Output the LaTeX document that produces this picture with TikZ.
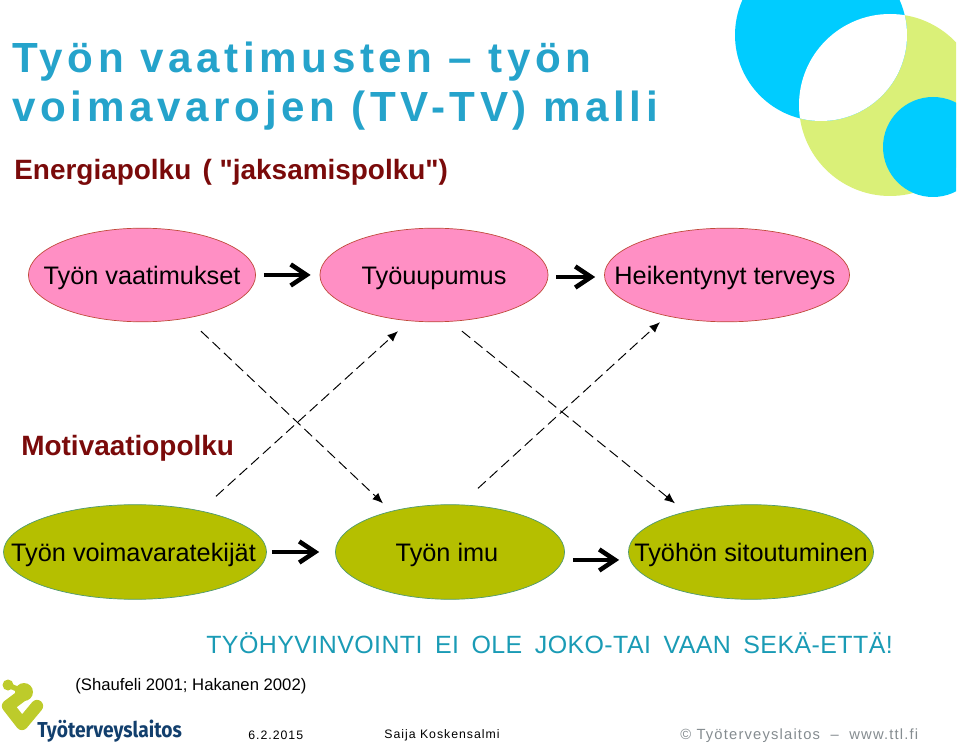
\documentclass[tikz,border=0pt]{standalone}
\usepackage{fontspec}
\setmainfont{Liberation Sans}
\newfontfamily\titlefont[LetterSpace=11]{Liberation Sans Bold}
\newfontfamily\redfont{Liberation Sans Bold}
\newfontfamily\footfont[LetterSpace=8]{Liberation Sans}
\newfontfamily\slogfont[LetterSpace=1.7,WordSpace=1.7]{Liberation Sans}
\newfontfamily\logofont[FakeStretch=0.89]{Fira Sans Bold}
\usetikzlibrary{arrows.meta,shapes.geometric}
\definecolor{titleblue}{HTML}{25A3CB}
\definecolor{sloganblue}{HTML}{1A9BB5}
\definecolor{darkred}{HTML}{7A0A0A}
\definecolor{pinkfill}{HTML}{FF8FC4}
\definecolor{pinkline}{HTML}{C04A3A}
\definecolor{limefill}{HTML}{B5BF00}
\definecolor{limeline}{HTML}{4F9A70}
\definecolor{skyblue}{HTML}{00CCFF}
\definecolor{palelime}{HTML}{DAF078}
\definecolor{logolime}{HTML}{BDCB2B}
\definecolor{logoblue}{HTML}{123F6D}
\definecolor{footgray}{HTML}{858C90}
\def\unitpx{*0.567pt}
\newcommand{\balltext}[1]{\makebox[0pt]{#1}}
\tikzset{
    pinkball/.style={ellipse,draw=pinkline,fill=pinkfill,inner sep=0pt,minimum height=94\unitpx,text height=13.9pt,text depth=2.6pt,font=\fontsize{14.4}{16}\selectfont},
    limeball/.style={ellipse,draw=limeline,fill=limefill,inner sep=0pt,minimum height=95\unitpx,text height=13.9pt,text depth=2.6pt,font=\fontsize{14.4}{16}\selectfont},
    thickarrow/.style={-{Straight Barb[length=9pt,width=12pt,line width=2.6pt]},line width=2.6pt,black,shorten <=8\unitpx,shorten >=9\unitpx},
    dasharrow/.style={-{Latex[length=6pt,width=5pt]},dashed,dash pattern=on 6pt off 3pt,line width=0.55pt},
    heading/.style={anchor=west,inner sep=0pt,text=titleblue,font=\titlefont\fontsize{24}{28}\selectfont},
    redlabel/.style={anchor=west,inner sep=0pt,text=darkred,font=\redfont\fontsize{15.9}{18}\selectfont},
    footlabel/.style={anchor=west,inner sep=0pt,font=\footfont\fontsize{7}{9}\selectfont},
}
\begin{document}
\begin{tikzpicture}[x=0.02cm,y=-0.02cm]
    \useasboundingbox (0,0) rectangle (960,746);
    % corner circles
    \begin{scope}
        \clip (730,1) rectangle (956,200);
        \fill[palelime] (890,105) circle (91);
        \fill[skyblue] (821,35) circle (86);
        \begin{scope}
            \clip (890,105) circle (91);
            \fill[white] (821,35) circle (86);
        \end{scope}
        \fill[skyblue] (933,147) circle (50);
    \end{scope}
    % titles
    \node[heading] (title1) at (12,62) {Työn vaatimusten – työn};
    \node[heading] (title2) at (12,111) {voimavarojen (TV-TV) malli};
    \node[redlabel] (energy) at (14,172.5) {Energiapolku\kern2pt\ ( "jaksamispolku")};
    \node[redlabel] (motiv) at (21,448) {Motivaatiopolku};
    % ellipses
    \node[pinkball,minimum width=228\unitpx] (demands) at (142,275) {\balltext{Työn vaatimukset}};
    \node[pinkball,minimum width=229\unitpx] (burnout) at (434,275) {\balltext{Työuupumus}};
    \node[pinkball,minimum width=246\unitpx] (health) at (727,275) {\balltext{\kern-2.5pt Heikentynyt terveys}};
    \node[limeball,minimum width=264\unitpx] (resources) at (135,552) {\balltext{\kern-1.7pt Työn voimavaratekijät}};
    \node[limeball,minimum width=230\unitpx] (engage) at (450,552) {\balltext{\kern-3.4pt Työn imu}};
    \node[limeball,minimum width=246\unitpx] (commit) at (751,552) {\balltext{Työhön sitoutuminen}};
    % arrows
    \draw[thickarrow] (demands) -- (burnout);
    \draw[thickarrow] ([yshift=-2\unitpx]burnout.east) -- ([yshift=-2\unitpx]health.west);
    \draw[thickarrow,shorten <=5\unitpx,shorten >=16\unitpx] (resources) -- (engage);
    \draw[thickarrow] ([yshift=-8\unitpx]engage.east) -- ([yshift=-8\unitpx]commit.west);
    \draw[dasharrow] ([shift={(59,9)}]demands.south) -- ([shift={(-67,-1)}]engage.north);
    \draw[dasharrow] ([shift={(81,-8)}]resources.north) -- ([shift={(-36,9)}]burnout.south);
    \draw[dasharrow] ([shift={(28,9)}]burnout.south) -- ([shift={(-76,-1)}]commit.north);
    \draw[dasharrow] ([shift={(28,-16)}]engage.north) -- ([shift={(-67,0)}]health.south);
    % bottom texts
    \node[anchor=west,inner sep=0pt,text=sloganblue,font=\slogfont\fontsize{14.2}{16}\selectfont] (slogan) at (206,643.5) {TYÖHYVINVOINTI EI OLE JOKO-TAI VAAN SEKÄ-ETTÄ!};
    \node[anchor=west,inner sep=0pt,font=\fontsize{9.5}{12}\selectfont] (source) at (75,686) {(Shaufeli 2001; Hakanen 2002)};
    \node[footlabel] (date) at (248,735) {6.2.2015};
    \node[footlabel] (person) at (384,735) {Saija Koskensalmi};
    \node[footlabel,text=footgray,font=\footfont\fontsize{8.4}{10}\selectfont] (copyr) at (680,735.5) {© Työterveyslaitos\ \ –\ \ www.ttl.fi};
    % logo
    \fill[logolime] (8,685) circle (5.5);
    \fill[logolime] (24,692) circle (9);
    \draw[logolime,line width=3pt,line cap=round] (8,685) -- (24,692);
    \draw[logolime,line width=7pt,line cap=round,line join=round] (24,694) -- (8,706) -- (22,724) -- (37,706);
    \node[anchor=west,inner sep=0pt,text=logoblue,font=\logofont\fontsize{12.3}{15}\selectfont] (logo) at (37,731) {Työterveyslaitos};
\end{tikzpicture}
\end{document}
